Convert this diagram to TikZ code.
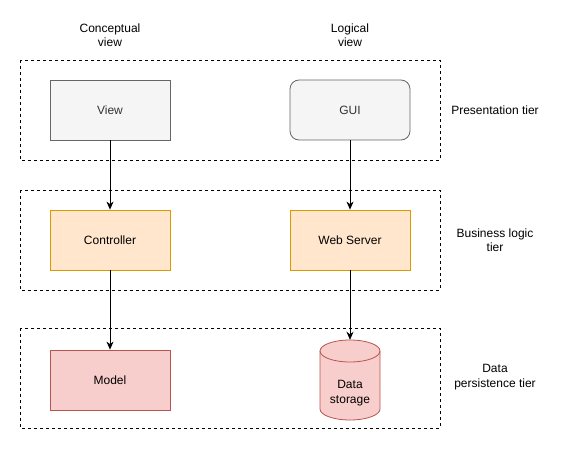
\documentclass[tikz,border=0pt]{standalone}
\usepackage{fontspec}
\setmainfont{Liberation Sans}
\usetikzlibrary{arrows.meta}
\definecolor{greyfill}{HTML}{F5F5F5}
\definecolor{greyline}{HTML}{666666}
\definecolor{greytext}{HTML}{333333}
\definecolor{orangefill}{HTML}{FFE6CC}
\definecolor{orangeline}{HTML}{D79B00}
\definecolor{redfill}{HTML}{F8CECC}
\definecolor{redline}{HTML}{B85450}
\tikzset{
  tierframe/.style={draw, dash pattern=on 3pt off 3pt, line width=0.8pt},
  box/.style={minimum width=120pt, minimum height=60pt, line width=0.8pt, inner sep=0pt},
  greybox/.style={box, draw=greyline, fill=greyfill, text=greytext},
  orangebox/.style={box, draw=orangeline, fill=orangefill},
  redbox/.style={box, draw=redline, fill=redfill},
  arr/.style={line width=0.8pt, -{Stealth[length=8pt,width=7pt,inset=2.5pt]}}
}
\begin{document}
\begin{tikzpicture}[x=1pt, y=-1pt, font=\fontsize{12}{14.4}\selectfont]
        \useasboundingbox (0,0) rectangle (561,449);
        % Column headings
        \node[align=center] (concept) at (110,35) {Conceptual\\view};
        \node[align=center] (logic) at (350,35) {Logical\\view};

        % Tier frames (dashed)
        \draw[tierframe] (20,60) rectangle (440,160);
        \draw[tierframe] (20,190) rectangle (440,290);
        \draw[tierframe] (20,328) rectangle (440,428);

        % Tier labels
        \node (presTier) at (495,110) {Presentation tier};
        \node[align=center] (busTier) at (495,240) {Business logic\\tier};
        \node[align=center] (dataTier) at (495,377) {Data\\persistence tier};

        % Presentation tier
        \node[greybox] (view) at (110,110) {View};
        \node[greybox, rounded corners=9pt] (gui) at (350,110) {GUI};
        % Business logic tier
        \node[orangebox] (ctrl) at (110,240) {Controller};
        \node[orangebox] (web) at (350,240) {Web Server};
        % Data persistence tier
        \node[redbox] (model) at (110,380) {Model};
        \node[minimum width=60pt, minimum height=80pt, inner sep=0pt] (store) at (350,380) {};
        \path[fill=redfill, draw=redline, line width=0.8pt]
            (320,351) -- (320,409) arc[start angle=180, end angle=0, x radius=30, y radius=11]
            -- (380,351) arc[start angle=0, end angle=-180, x radius=30, y radius=11] -- cycle;
        \draw[redline, line width=0.8pt] (320,351) arc[start angle=180, end angle=0, x radius=30, y radius=11];
        \node[align=center] (storeText) at (350,393) {Data\\storage};

        % Arrows between tiers
        \draw[arr] (view) -- (ctrl);
        \draw[arr] (gui) -- (web);
        \draw[arr] (ctrl) -- (model);
        \draw[arr] (web) -- (store);
\end{tikzpicture}
\end{document}
